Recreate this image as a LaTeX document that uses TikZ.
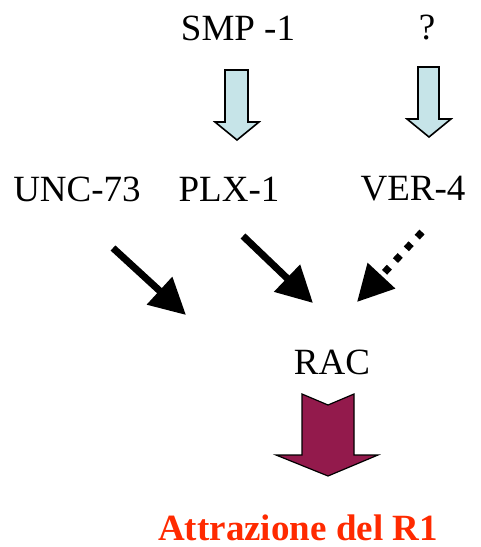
\documentclass[tikz,border=0pt]{standalone}
\usepackage{fontspec}
\setmainfont{Liberation Serif}
\usetikzlibrary{arrows.meta}
\definecolor{paleblue}{HTML}{C6E4E8}
\definecolor{wine}{HTML}{931A4C}
\definecolor{redtext}{HTML}{FF2A00}
\begin{document}
\begin{tikzpicture}[x=1pt,y=-1pt,
  lbl/.style={font=\fontsize{37}{40}\selectfont, inner sep=0pt},
  hollow/.style={draw=black, line width=1.6pt, fill=paleblue, line join=miter},
  blk/.style={line width=7pt, -{Triangle[length=36pt,width=36pt]}},
  dotblk/.style={blk, dash pattern=on 7pt off 9pt}]
\useasboundingbox (0,0) rectangle (480,547);
% labels
\node[lbl] (smp) at (238,28) {SMP -1};
\node[lbl] (q) at (427,28) {?};
\node[lbl] (unc) at (77,189) {UNC-73};
\node[lbl] (plx) at (229,189) {PLX-1};
\node[lbl] (ver) at (413,189) {VER-4};
\node[lbl] (rac) at (332,362) {RAC};
\node[font=\bfseries\fontsize{37}{40}\selectfont, text=redtext, inner sep=0pt] (attr) at (298,528) {Attrazione del R1};
% hollow arrows
\draw[hollow] (225,70) -- (248,70) -- (248,122) -- (259,122) -- (237,140) -- (215,122) -- (225,122) -- cycle;
\draw[hollow] (418,67) -- (439,67) -- (439,119) -- (451,119) -- (429,137) -- (407,119) -- (418,119) -- cycle;
% black arrows
\coordinate (u1) at (113,248); \coordinate (u2) at (186,315);
\coordinate (p1) at (243,236); \coordinate (p2) at (313,303);
\coordinate (v1) at (422,232); \coordinate (v2) at (357,302);
\draw[blk] (u1) -- (u2);
\draw[blk] (p1) -- (p2);
\draw[dotblk] (v1) -- (v2);
% RAC block arrow
\draw[draw=black, line width=1.2pt, fill=wine, line join=miter]
  (302,394) -- (328,405) -- (354,394) -- (354,455) -- (378,455) -- (328,476) -- (276,455) -- (302,455) -- cycle;
\end{tikzpicture}
\end{document}
